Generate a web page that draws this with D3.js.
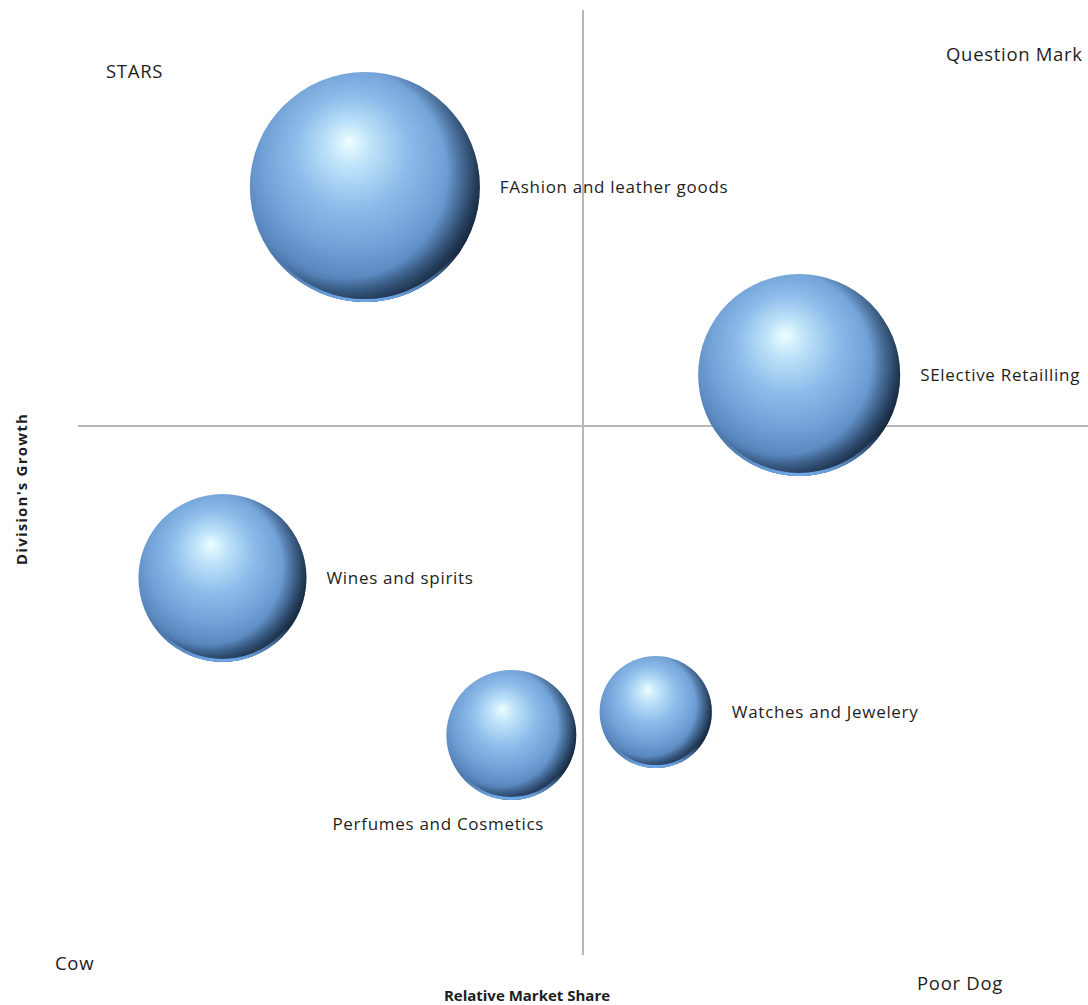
<!DOCTYPE html>
<html>
<head>
<meta charset="utf-8">
<script src="https://cdn.jsdelivr.net/npm/d3@7"></script>
<style>
  html, body { margin: 0; padding: 0; background: #fff; }
  svg { display: block; }
  text { font-family: "Open Sans", "Noto Sans", sans-serif; fill: #1e1e1e; }
</style>
</head>
<body>
<script>
// ---- data ----
const categories = ["FAshion and leather goods", "SElective Retailling", "Wines and spirits", "Perfumes and Cosmetics", "Watches and Jewelery"];
const marketShare = [-2.16, 2.14, -3.57, -0.71, 0.72];   // relative market share (x)
const growth = [2.39, 0.51, -1.52, -3.09, -2.86];          // division's growth (y)
const sizes = [10.5, 8.1, 5.6, 3.35, 2.5];                 // bubble size
const labelPos = ["right", "right", "right", "below", "right"];
const quadrantLabels = ["STARS", "Question Mark", "Cow", "Poor Dog"];
const xTitle = "Relative Market Share";
const yTitle = "Division's Growth";

const W = 1088, H = 1005;
const svg = d3.select("body").append("svg").attr("width", W).attr("height", H);

const x = d3.scaleLinear().domain([-5, 5]).range([78, 1088]);
const y = d3.scaleLinear().domain([-5, 5]).range([926, -74]);
const r = d3.scaleSqrt().domain([0, 10.5]).range([0, 115]);

const defs = svg.append("defs");
const g1 = defs.append("radialGradient").attr("id", "sphere")
  .attr("cx", "0.46").attr("cy", "0.42").attr("r", "0.62")
  .attr("fx", "0.43").attr("fy", "0.3");
[[0, "#ecfeff"], [0.16, "#bde2f9"], [0.4, "#8dbcea"], [0.64, "#70a0d6"], [0.8, "#5a88bf"], [0.92, "#3e6492"], [1, "#2a4565"]]
  .forEach(([o, c]) => g1.append("stop").attr("offset", o).attr("stop-color", c));
// dark crescent on the right side
const g3 = defs.append("radialGradient").attr("id", "shade")
  .attr("cx", "0.4").attr("cy", "0.44").attr("r", "0.62");
[[0, "#0f1d2e", 0], [0.74, "#0f1d2e", 0], [0.9, "#0f1d2e", 0.5], [1, "#0f1d2e", 0.85]]
  .forEach(([o, c, op]) => g3.append("stop").attr("offset", o).attr("stop-color", c).attr("stop-opacity", op));
const g2 = defs.append("linearGradient").attr("id", "rim")
  .attr("x1", "0").attr("y1", "0").attr("x2", "0").attr("y2", "1");
[[0, "#6fa8ea", 0], [0.8, "#6fa8ea", 0], [1, "#6fa8ea", 1]]
  .forEach(([o, c, op]) => g2.append("stop").attr("offset", o).attr("stop-color", c).attr("stop-opacity", op));
const f = defs.append("filter").attr("id", "soft");
f.append("feGaussianBlur").attr("stdDeviation", 0.6);

// axis lines
svg.append("line").attr("x1", x(0)).attr("x2", x(0)).attr("y1", 10).attr("y2", 955)
  .attr("stroke", "#b8b8b8").attr("stroke-width", 2);
svg.append("line").attr("x1", x(-5)).attr("x2", x(5)).attr("y1", y(0)).attr("y2", y(0))
  .attr("stroke", "#b8b8b8").attr("stroke-width", 2);

const data = categories.map((c, i) => ({ c, x: marketShare[i], y: growth[i], s: sizes[i], lp: labelPos[i] }));

const b = svg.append("g").selectAll("g").data(data).join("g")
  .attr("transform", d => `translate(${x(d.x)},${y(d.y)})`);
b.append("circle").attr("r", d => r(d.s)).attr("fill", "url(#sphere)").attr("filter", "url(#soft)");
b.append("circle").attr("r", d => r(d.s)).attr("fill", "url(#shade)");
b.append("circle").attr("r", d => r(d.s) - 1.5).attr("fill", "none")
  .attr("stroke", "url(#rim)").attr("stroke-width", 3);

svg.append("g").selectAll("text").data(data).join("text")
  .attr("x", d => d.lp === "below" ? x(d.x) - 73 : x(d.x) + r(d.s) + 20)
  .attr("y", d => d.lp === "below" ? y(d.y) + r(d.s) + 30 : y(d.y) + 6)
  .attr("text-anchor", d => d.lp === "below" ? "middle" : "start")
  .attr("font-size", 17).attr("letter-spacing", 0.7)
  .text(d => d.c);

// quadrant labels
const ql = [[106, 78], [946, 61], [55, 970], [917, 990]];
svg.append("g").selectAll("text").data(quadrantLabels).join("text")
  .attr("x", (d, i) => ql[i][0]).attr("y", (d, i) => ql[i][1])
  .attr("font-size", 18.5).attr("letter-spacing", 0.7).text(d => d);

svg.append("text").attr("x", x(0) - 56).attr("y", 1001).attr("text-anchor", "middle")
  .attr("font-size", 15).attr("font-weight", "bold").text(xTitle);
svg.append("text").attr("transform", `translate(27,489) rotate(-90)`).attr("text-anchor", "middle")
  .attr("font-size", 15).attr("font-weight", "bold").attr("letter-spacing", 1.2).text(yTitle);
</script>
</body>
</html>
